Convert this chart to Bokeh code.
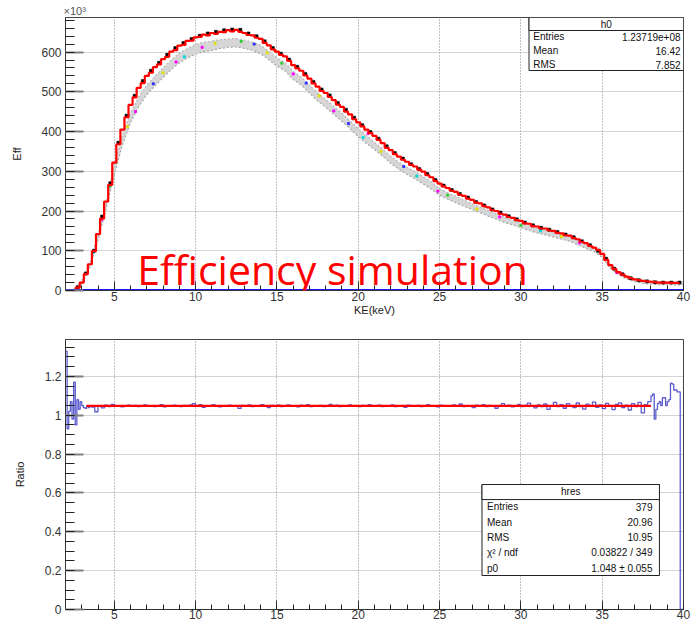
import numpy as np
from bokeh.plotting import figure
from bokeh.layouts import column
from bokeh.models import (Range1d, Label, BoxAnnotation, SingleIntervalTicker,
                          CustomJSTickFormatter)
from bokeh.embed import file_html
from bokeh.resources import INLINE

# ---------------- data ----------------
# Efficiency histogram (x10^3), 0.25 keV bins, centres from 2.5 keV
eff_red_start, eff_red_step = 2.5, 0.25
eff_red = [
    0, 7, 20, 41, 66, 99, 142, 181, 224, 266,
    322, 368, 405, 436, 467, 486, 510, 522, 540, 548,
    562, 569, 582, 588, 601, 605, 616, 618, 628, 629,
    637, 638, 644, 642, 648, 646, 651, 650, 655, 652,
    656, 651, 648, 643, 642, 636, 633, 623, 617, 607,
    601, 593, 589, 578, 567, 559, 553, 541, 533, 521,
    513, 502, 497, 487, 479, 468, 462, 450, 443, 431,
    423, 413, 405, 396, 389, 379, 371, 359, 353, 343,
    337, 329, 324, 316, 312, 304, 299, 290, 285, 275,
    269, 262, 258, 251, 248, 241, 238, 231, 228, 221,
    219, 212, 209, 202, 200, 193, 191, 185, 183, 177,
    175, 169, 168, 162, 161, 156, 156, 151, 150, 145,
    144, 139, 138, 132, 129, 122, 119, 112, 108, 102,
    92, 77, 64, 54, 46, 40, 35, 31, 28, 26,
    24, 23, 22, 21, 20, 20, 20, 19, 19, 19,
]

# Reference histogram (x10^3), 0.5 keV bins, centres from 2.75 keV
eff_black_start, eff_black_step = 2.75, 0.5
eff_black = [
    8, 43, 100, 186, 270, 372, 440, 490, 527, 553,
    573, 593, 610, 623, 633, 641, 647, 651, 655, 657,
    656, 647, 640, 627, 610, 596, 581, 563, 545, 525,
    506, 491, 472, 455, 435, 416, 399, 382, 363, 346,
    332, 318, 306, 293, 278, 264, 253, 243, 234, 223,
    214, 204, 196, 187, 179, 171, 164, 158, 153, 147,
    141, 134, 124, 114, 100, 80, 55, 41, 31, 26,
    23, 21, 20, 20, 20,
]

# Spread of the other simulation runs (x10^3), sampled every 0.5 keV from 2.5 keV
runs_start, runs_step = 2.5, 0.5
runs_high = [
    3, 25, 70, 142, 222, 318, 390, 447, 487, 517,
    539, 560, 580, 597, 609, 619, 625, 628, 631, 633,
    634, 630, 625, 617, 602, 585, 573, 551, 537, 517,
    497, 481, 463, 446, 427, 407, 390, 373, 356, 338,
    323, 310, 299, 286, 273, 256, 246, 237, 228, 218,
    210, 201, 193, 185, 177, 170, 163, 157, 152, 147,
    141, 136, 127, 118, 108, 93, 66, 48, 37, 30,
    26, 24, 23, 22, 22, 22,
]
runs_low = [
    0, 15, 58, 126, 206, 292, 366, 423, 463, 493,
    515, 536, 556, 573, 585, 595, 601, 604, 609, 612,
    613, 609, 604, 596, 581, 565, 553, 531, 517, 497,
    477, 461, 443, 426, 407, 387, 370, 355, 338, 320,
    305, 292, 281, 268, 255, 240, 230, 221, 212, 204,
    196, 187, 179, 171, 165, 158, 151, 145, 140, 135,
    129, 124, 115, 106, 98, 83, 56, 40, 29, 22,
    18, 16, 15, 14, 14, 14,
]

# Marker points of individual runs (keV, x10^3, colour)
run_pts_ke = [3.7, 4.2, 4.7, 5.8, 6.3, 7.4, 8.0, 8.8, 9.3, 10.4,
              11.2, 12.8, 13.6, 14.4, 15.3, 16.0, 16.8, 17.6, 18.5, 19.4,
              20.3, 20.6, 21.4, 22.8, 23.6, 24.9, 25.5, 27.3, 28.7, 30.0,
              31.2, 32.5, 33.6, 35.9]
run_pts_eff = [95, 178, 262, 412, 450, 520, 548, 575, 588, 612,
               622, 627, 620, 598, 572, 545, 522, 490, 452, 420,
               385, 395, 350, 312, 288, 250, 240, 205, 185, 164,
               150, 136, 120, 45]
run_pts_color = ["#00d8d8", "#ff00ff", "#33cc33", "#e0e000", "#ff00ff", "#3333ff",
                 "#e0e000", "#ff00ff", "#00d8d8", "#ff00ff", "#e0e000", "#33cc33",
                 "#3333ff", "#e0e000", "#33cc33", "#ff00ff", "#3333ff", "#e0e000",
                 "#ff00ff", "#3333ff", "#00d8d8", "#ff00ff", "#e0e000", "#3333ff",
                 "#00d8d8", "#ff00ff", "#33cc33", "#e0e000", "#ff00ff", "#33cc33",
                 "#00d8d8", "#e0e000", "#ff00ff", "#ff00ff"]

zero_ke = [2.0, 40.0]
zero_eff = [0.0, 0.0]

# Ratio histogram: 0.1 keV bins 2.0-3.6, 0.2 keV bins 3.6-38.0, 0.1 keV bins 38.0-40.0
ratio_lo = [1.33, 0.93, 1.02, 1.07, 0.98, 1.17, 0.95, 1.08, 1.03, 1.07,
            1.05, 1.04, 1.035, 1.05, 1.04, 1.05]
ratio_mid = [
    1.042, 1.018, 1.046, 1.038, 1.052, 1.044, 1.056, 1.047, 1.050, 1.043,
    1.049, 1.052, 1.046, 1.051, 1.044, 1.048, 1.053, 1.047, 1.050, 1.045,
    1.048, 1.055, 1.043, 1.050, 1.046, 1.052, 1.049, 1.044, 1.051, 1.047,
    1.053, 1.060, 1.049, 1.054, 1.041, 1.050, 1.046, 1.055, 1.048, 1.043,
    1.050, 1.047, 1.052, 1.046, 1.049, 1.035, 1.051, 1.048, 1.053, 1.045,
    1.050, 1.046, 1.055, 1.048, 1.040, 1.051, 1.047, 1.052, 1.044, 1.049,
    1.053, 1.046, 1.050, 1.043, 1.052, 1.048, 1.055, 1.045, 1.050, 1.047,
    1.051, 1.044, 1.049, 1.056, 1.047, 1.052, 1.045, 1.050, 1.048, 1.053,
    1.046, 1.050, 1.044, 1.051, 1.048, 1.054, 1.047, 1.049, 1.052, 1.045,
    1.050, 1.047, 1.053, 1.044, 1.050, 1.048, 1.041, 1.052, 1.049, 1.046,
    1.051, 1.045, 1.050, 1.055, 1.047, 1.049, 1.043, 1.052, 1.048, 1.050,
    1.046, 1.053, 1.049, 1.058, 1.044, 1.050, 1.047, 1.040, 1.052, 1.048,
    1.055, 1.045, 1.051, 1.047, 1.036, 1.050, 1.060, 1.046, 1.052, 1.043,
    1.049, 1.056, 1.044, 1.051, 1.062, 1.047, 1.038, 1.053, 1.045, 1.058,
    1.030, 1.050, 1.066, 1.044, 1.055, 1.036, 1.060, 1.048, 1.040, 1.063,
    1.045, 1.032, 1.057, 1.050, 1.068, 1.041, 1.053, 1.034, 1.061, 1.047,
    1.029, 1.056, 1.064, 1.040, 1.052, 1.027, 1.060, 1.045, 1.066, 1.012,
    1.055, 1.070,
]
ratio_hi = [1.10, 1.11, 0.98, 1.03, 1.06, 1.07, 1.05, 1.09, 1.09, 1.05,
            1.07, 1.08, 1.165, 1.16, 1.13, 1.13, 1.12, 1.12, 0.0, 0.0]

# Constant fit p0 and its range
fit_p0 = 1.048
fit_range = [3.3, 38.0]

# Statistics boxes
h0_stats = [("Entries", "1.23719e+08"), ("Mean", "16.42"), ("RMS", "7.852")]
hres_stats = [("Entries", "379"), ("Mean", "20.96"), ("RMS", "10.95"),
              ("χ² / ndf", "0.03822 / 349"), ("p0", "1.048 ± 0.055")]

# ---------------- derived bin positions ----------------
red_x = eff_red_start + eff_red_step * np.arange(len(eff_red))
black_x = eff_black_start + eff_black_step * np.arange(len(eff_black))
runs_x = runs_start + runs_step * np.arange(len(runs_high))

edges = np.concatenate([
    2.0 + 0.1 * np.arange(len(ratio_lo)),
    3.6 + 0.2 * np.arange(len(ratio_mid)),
    38.0 + 0.1 * np.arange(len(ratio_hi)),
    [40.0],
])
ratio_vals = list(ratio_lo) + list(ratio_mid) + list(ratio_hi)
ratio_vals = ratio_vals + [ratio_vals[-1]]

FONT = "Liberation Sans"
TXT = "#333333"


def style(p, xlabel, ylabel, y_interval, y_minor, label_standoff):
    p.background_fill_color = "white"
    p.border_fill_color = "white"
    p.outline_line_color = "#444444"
    p.outline_line_width = 1

    p.xaxis.ticker = SingleIntervalTicker(interval=5, num_minor_ticks=5)
    p.yaxis.ticker = SingleIntervalTicker(interval=y_interval, num_minor_ticks=y_minor)

    for ax in (p.xaxis, p.yaxis):
        ax.axis_line_color = "#333333"
        ax.major_label_text_font = FONT
        ax.major_label_text_font_size = "12px"
        ax.major_label_text_color = TXT
        ax.major_tick_out = 0
        ax.minor_tick_out = 0
        ax.minor_tick_line_color = "#222222"
        ax.axis_label_text_font = FONT
        ax.axis_label_text_font_size = "11px"
        ax.axis_label_text_font_style = "normal"
        ax.axis_label_text_color = "#222222"

    p.yaxis.major_tick_in = 18
    p.yaxis.minor_tick_in = 9
    p.yaxis.major_tick_line_color = "#808080"
    p.yaxis.major_tick_line_width = 2
    p.yaxis.major_label_standoff = 4
    p.yaxis.axis_label = ylabel
    p.yaxis.axis_label_standoff = label_standoff

    p.xaxis.major_tick_in = 9
    p.xaxis.minor_tick_in = 5
    p.xaxis.major_tick_line_color = "#333333"
    p.xaxis.major_label_standoff = 1
    if xlabel:
        p.xaxis.axis_label = xlabel
        p.xaxis.axis_label_standoff = 0

    p.xgrid.grid_line_color = "#808080"
    p.xgrid.grid_line_dash = "1 2"
    p.ygrid.grid_line_color = "#a8a8a8"
    p.ygrid.grid_line_dash = "1 1"
    p.ygrid.grid_line_width = 1.2


def stats_box(p, left, right, top, head_bottom, bottom, head_y, row_ys,
              text_left, text_right, title, rows):
    p.add_layout(BoxAnnotation(left=left, right=right, top=top, bottom=bottom,
                               fill_color="white", fill_alpha=1.0,
                               line_color="#222222", line_width=1, line_alpha=1.0))
    p.add_layout(BoxAnnotation(left=left, right=right, top=top, bottom=head_bottom,
                               fill_color="white", fill_alpha=1.0,
                               line_color="#222222", line_width=1, line_alpha=1.0))
    p.add_layout(Label(x=(left + right) / 2, y=head_y, text=title, text_font=FONT,
                       text_font_size="10px", text_align="center",
                       text_baseline="middle", text_color="#111111"))
    for (name, val), yy in zip(rows, row_ys):
        p.add_layout(Label(x=text_left, y=yy, text=name, text_font=FONT,
                           text_font_size="10px", text_align="left",
                           text_baseline="middle", text_color="#111111"))
        p.add_layout(Label(x=text_right, y=yy, text=val, text_font=FONT,
                           text_font_size="10px", text_align="right",
                           text_baseline="middle", text_color="#111111"))


# ---------------- top panel: efficiency ----------------
p1 = figure(width=694, height=320, x_range=Range1d(2, 40), y_range=Range1d(0, 687),
            output_backend="svg", toolbar_location=None,
            min_border_left=65, min_border_right=8, min_border_top=17,
            min_border_bottom=30)
style(p1, "KE(keV)", "Eff", 100, 5, 15)
p1.title.text = "×10³"
p1.title.align = "left"
p1.title.text_font = FONT
p1.title.text_font_size = "11px"
p1.title.text_font_style = "normal"
p1.title.text_color = "#555555"
p1.title.standoff = 1
p1.title.offset = -2

p1.varea(x=runs_x, y1=runs_low, y2=runs_high, fill_color="#d6d6d6", fill_alpha=1.0)
p1.line(x=runs_x, y=runs_high, line_color="#b8b8b8", line_width=1.2, line_dash="2 2")
p1.line(x=runs_x, y=runs_low, line_color="#a8a8a8", line_width=1.2, line_dash="2 2")
p1.scatter(x=run_pts_ke, y=run_pts_eff, color=run_pts_color, size=2, marker="square")
p1.scatter(x=black_x, y=eff_black, marker="square", size=3,
           fill_color="black", line_color="black", line_width=0.5)
p1.step(x=red_x, y=eff_red, mode="center", line_color="#ff0000", line_width=2.2)
p1.line(x=zero_ke, y=zero_eff, line_color="#1a1aff", line_width=3)

p1.add_layout(Label(x=6.41, y=55, text="Efficiency simulation", text_font="Open Sans",
                    text_font_size="41px", text_color="#ff0000",
                    text_baseline="alphabetic", text_align="left"))

stats_box(p1, left=30.5, right=40.0, top=687, head_bottom=654.3, bottom=553.6,
          head_y=670.6, row_ys=[638, 602.7, 568],
          text_left=30.76, text_right=39.82, title="h0", rows=h0_stats)

# ---------------- bottom panel: ratio ----------------
p2 = figure(width=694, height=304, x_range=Range1d(2, 40), y_range=Range1d(0, 1.39),
            output_backend="svg", toolbar_location=None,
            min_border_left=63, min_border_right=11, min_border_top=19,
            min_border_bottom=15)
style(p2, None, "Ratio", 0.2, 4, 16)
p2.yaxis.formatter = CustomJSTickFormatter(
    code="return (Math.round(tick * 10) / 10).toString();")
p2.xaxis.major_label_standoff = 0

p2.step(x=edges, y=ratio_vals, mode="after", line_color="#4a4ac8", line_width=1.3,
        line_alpha=0.9)
p2.line(x=fit_range, y=[fit_p0, fit_p0], line_color="#ff0000", line_width=2.2)

stats_box(p2, left=27.61, right=38.52, top=0.6435, head_bottom=0.566, bottom=0.175,
          head_y=0.605, row_ys=[0.530, 0.448, 0.371, 0.293, 0.211],
          text_left=27.92, text_right=38.09, title="hres", rows=hres_stats)

layout = column(p1, p2, spacing=0)
open("out.html", "w").write(file_html(layout, INLINE))
